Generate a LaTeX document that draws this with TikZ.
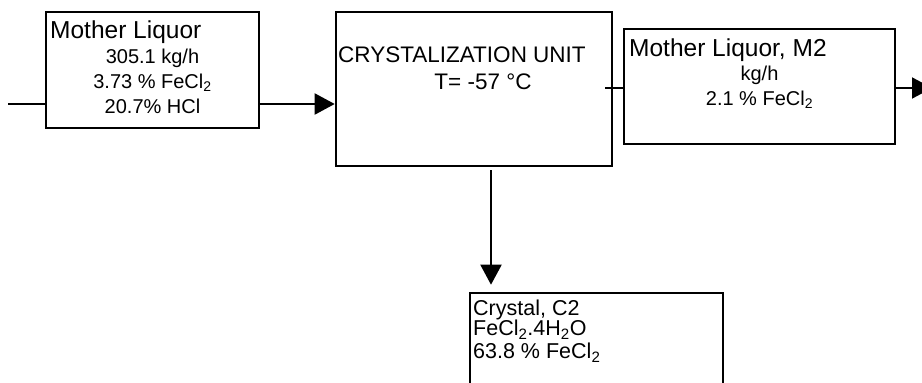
\documentclass[tikz,border=0pt]{standalone}
\usepackage{fontspec}
\setmainfont{Liberation Sans}
\usetikzlibrary{arrows.meta,positioning,calc}

\begin{document}
\begin{tikzpicture}[x=1pt,y=-1pt,
    box/.style={draw,rectangle,line width=2.6pt,inner sep=0pt},
    flow/.style={line width=2pt},
    arr/.style={flow,-{Triangle[length=20pt,width=21pt]}},
    title/.style={font=\fontsize{24.5}{28}\selectfont,anchor=base west,inner sep=0pt},
    data/.style={font=\fontsize{20}{24}\selectfont,anchor=base,inner sep=0pt},
    unittext/.style={font=\fontsize{22.5}{26}\selectfont,inner sep=0pt}]
  \useasboundingbox (0,0) rectangle (922,383);
  \clip (0,0) rectangle (922,383);

  % boxes
  \node[box,minimum width=213pt,minimum height=116pt] (feed) at (152.5,70) {};
  \node[box,minimum width=276pt,minimum height=154pt] (unit) at (474,89) {};
  \node[box,minimum width=271pt,minimum height=115pt] (m2) at (759.5,86.5) {};
  \node[box,minimum width=253pt,minimum height=120pt] (crystal) at (596.5,353) {};

  % feed stream
  \node[title] (feedname) at (50,38) {Mother Liquor};
  \node[data] (feedrate) at (152.5,63) {305.1 kg/h};
  \node[data] (feedfe) at (152.5,88) {3.73 \% FeCl\textsubscript{2}};
  \node[data] (feedhcl) at (152.5,113) {20.7\% HCl};

  % crystallizer
  \node[unittext,anchor=base west] (unitname) at (338,62) {CRYSTALIZATION UNIT};
  \node[unittext,anchor=base] (unittemp) at (483,89) {T= -57 °C};

  % mother liquor out
  \node[title] (m2name) at (629,56) {Mother Liquor, M2};
  \node[data] (m2rate) at (759.5,80) {kg/h};
  \node[data] (m2fe) at (759.5,105) {2.1 \% FeCl\textsubscript{2}};

  % crystals
  \node[inner sep=0pt,anchor=north west,align=left,
    font={\fontsize{21.5}{20}\selectfont\lineskiplimit=-20pt}] (cinfo) at (473,300)
    {Crystal, C2\\FeCl\textsubscript{2}.4H\textsubscript{2}O\\[3pt]63.8 \% FeCl\textsubscript{2}};

  % connectors
  \coordinate (in) at (8,104);
  \coordinate (m2in) at (605,88);
  \coordinate (out) at (932,88);
  \coordinate (drop) at (491,170);
  \draw[flow] (in) -- (feed.west |- in);
  \draw[arr] (feed.east |- in) -- (unit.west |- in);
  \draw[flow] (m2in) -- (m2.west |- m2in);
  \draw[arr] (m2.east |- out) -- (out);
  \draw[arr] (drop) -- ([yshift=7pt]crystal.north -| drop);
\end{tikzpicture}
\end{document}
